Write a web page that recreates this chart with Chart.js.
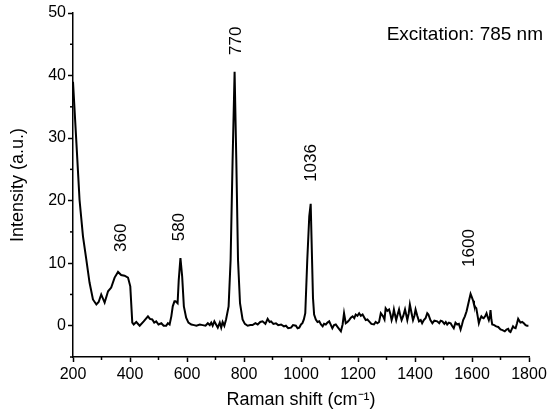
<!DOCTYPE html>
<html>
<head>
<meta charset="utf-8">
<script src="https://cdn.jsdelivr.net/npm/chart.js@4.4.1/dist/chart.umd.min.js"></script>
<style>
  body { margin: 0; background: #fff; }
  #wrap { width: 550px; height: 419px; }
</style>
</head>
<body>
<div id="wrap"><canvas id="ramanChart"></canvas></div>
<script>
// Spectrum
const ramanShift = [
  200, 212, 223, 235, 247, 258, 270, 282, 290, 299, 311, 323, 334, 346, 358, 369, 381, 393, 401, 408,
  413, 422, 434, 448, 463, 470, 478, 485, 492, 500, 510, 518, 527, 533, 539, 545, 550, 556, 560, 567,
  571, 577, 583, 589, 597, 605, 615, 625, 633, 645, 655, 665, 673, 680, 685, 690, 696, 702, 708, 715,
  720, 725, 731, 737, 746, 753, 760, 767, 773, 779, 786, 795, 803, 813, 822, 830, 840, 848, 857, 865,
  875, 883, 890, 895, 903, 912, 920, 930, 940, 947, 955, 965, 972, 982, 988, 994, 1000, 1005, 1010, 1015,
  1022, 1029, 1034, 1038, 1042, 1046, 1052, 1058, 1064, 1070, 1076, 1081, 1087, 1093, 1099, 1105, 1110, 1116, 1122, 1130,
  1140, 1146, 1151, 1157, 1163, 1169, 1175, 1181, 1187, 1192, 1198, 1204, 1210, 1216, 1222, 1227, 1233, 1239, 1247, 1256,
  1262, 1268, 1274, 1280, 1288, 1293, 1297, 1303, 1309, 1314, 1318, 1322, 1326, 1330, 1334, 1339, 1344, 1348, 1353, 1359,
  1365, 1369, 1373, 1378, 1382, 1388, 1393, 1398, 1402, 1408, 1414, 1420, 1425, 1431, 1437, 1443, 1447, 1454, 1461, 1468,
  1478, 1485, 1490, 1496, 1503, 1508, 1513, 1519, 1525, 1530, 1536, 1542, 1548, 1554, 1560, 1565, 1569, 1575, 1581, 1589,
  1595, 1600, 1604, 1607, 1611, 1615, 1620, 1624, 1628, 1633, 1637, 1641, 1646, 1651, 1655, 1659, 1663, 1665, 1668, 1671,
  1678, 1685, 1692, 1700, 1707, 1715, 1721, 1727, 1731, 1735, 1740, 1744, 1748, 1753, 1758, 1762, 1766, 1770, 1776, 1782,
  1788, 1793, 1798
];
const intensity = [
  39.0, 29.2, 20.1, 14.3, 10.5, 6.9, 4.2, 3.4, 3.8, 5.0, 3.7, 5.5, 6.1, 7.7, 8.6, 8.1, 8.0, 7.7, 6.3, 0.5,
  0.2, 0.6, 0.0, 0.7, 1.5, 1.1, 1.0, 0.5, 0.7, 0.2, 0.4, 0.0, 0.0, 0.4, 0.2, 1.5, 3.1, 3.9, 3.9, 3.6,
  7.3, 10.8, 7.9, 3.1, 1.3, 0.5, 0.2, 0.1, 0.0, 0.2, 0.1, 0.0, 0.4, 0.1, 0.5, 0.0, 0.7, 0.2, -0.3, 0.5,
  -0.3, 0.6, 0.0, 1.0, 3.1, 10.5, 26.5, 40.6, 26.5, 10.5, 3.6, 1.0, 0.3, 0.0, 0.1, 0.1, 0.4, 0.2, 0.6, 0.7,
  0.3, 1.1, 0.6, 0.7, 0.3, 0.4, 0.1, 0.2, -0.1, 0.0, -0.4, -0.3, 0.1, 0.0, -0.4, -0.3, 0.2, 0.4, 1.0, 2.0,
  10.5, 17.5, 19.5, 12.0, 4.5, 1.8, 1.0, 0.6, 0.7, 0.2, -0.1, 0.3, 0.2, 0.5, 0.7, 0.1, -0.4, 0.1, 0.2, -0.3,
  -0.9, 0.2, 2.0, 0.4, 0.6, 0.9, 1.3, 1.5, 1.2, 1.8, 1.6, 2.0, 1.6, 1.8, 1.3, 0.9, 1.0, 0.7, 0.3, 0.2,
  0.6, 0.4, 0.6, 2.0, 1.5, 1.0, 2.8, 2.4, 2.6, 1.8, 0.9, 1.5, 2.6, 1.7, 0.9, 1.8, 2.6, 1.7, 0.9, 1.6,
  2.6, 1.8, 0.9, 2.0, 3.4, 2.0, 0.9, 1.6, 2.6, 1.6, 0.7, 0.9, 0.4, 0.9, 1.2, 2.0, 1.8, 0.9, 0.4, 0.8,
  0.7, 0.4, 0.8, 0.7, 0.3, 0.6, 0.2, 0.5, 0.4, 0.0, -0.4, 0.5, 0.2, 0.3, -0.6, 0.2, 0.9, 1.5, 2.3, 3.9,
  5.1, 4.5, 4.0, 3.4, 3.0, 2.8, 1.5, 0.4, 1.0, 1.5, 1.3, 1.2, 1.5, 2.0, 1.4, 0.9, 1.6, 2.5, 1.0, 0.2,
  0.1, -0.1, -0.2, -0.6, -0.7, -0.9, -0.6, -0.5, -0.9, -1.0, -0.5, -0.1, -0.3, -0.4, 0.4, 1.1, 0.8, 0.5, 0.6, 0.4,
  0.1, 0.0, 0.0
];

// Axis ticks
const xTicks = [200, 400, 600, 800, 1000, 1200, 1400, 1600, 1800];
const xMinorTicks = [300, 500, 700, 900, 1100, 1300, 1500, 1700];
const yTicks = [0, 10, 20, 30, 40, 50];
const yMinorTicks = [-5, 5, 15, 25, 35, 45];

// Peak labels (position of the text start, in data units)
const peakNames = ['360', '580', '770', '1036', '1600'];
const peakLabelX = [369, 574, 772, 1035, 1589];
const peakLabelY = [11.8, 13.5, 43.3, 23.0, 9.4];

const FONT = '"Liberation Sans", Arial, sans-serif';

// minor ticks, peak labels, excitation note
const extrasPlugin = {
  id: 'extras',
  afterDraw(chart) {
    const ctx = chart.ctx;
    const xs = chart.scales.x;
    const ys = chart.scales.y;
    const area = chart.chartArea;
    ctx.save();
    ctx.strokeStyle = '#000';
    ctx.lineWidth = 1.5;
    xMinorTicks.forEach(function (v) {
      const px = xs.getPixelForValue(v);
      ctx.beginPath();
      ctx.moveTo(px, area.bottom);
      ctx.lineTo(px, area.bottom + 3);
      ctx.stroke();
    });
    yMinorTicks.forEach(function (v) {
      const py = ys.getPixelForValue(v);
      ctx.beginPath();
      ctx.moveTo(area.left, py);
      ctx.lineTo(area.left - 3, py);
      ctx.stroke();
    });

    ctx.fillStyle = '#000';
    ctx.font = '17px ' + FONT;
    ctx.textAlign = 'left';
    ctx.textBaseline = 'middle';
    for (let i = 0; i < peakNames.length; i++) {
      ctx.save();
      ctx.translate(xs.getPixelForValue(peakLabelX[i]), ys.getPixelForValue(peakLabelY[i]));
      ctx.rotate(-Math.PI / 2);
      ctx.fillText(peakNames[i], 0, 0);
      ctx.restore();
    }

    ctx.font = '19px ' + FONT;
    ctx.textAlign = 'right';
    ctx.fillText('Excitation: 785 nm', area.right + 14, 35);
    ctx.restore();
  }
};

const points = ramanShift.map(function (x, i) {
  return { x: x, y: intensity[i] };
});

function plainLabel(value) {
  return String(value);
}

const ctx = document.getElementById('ramanChart').getContext('2d');
new Chart(ctx, {
  type: 'line',
  data: {
    datasets: [
      {
        data: points,
        borderColor: '#000',
        borderWidth: 2,
        pointRadius: 0,
        tension: 0,
        fill: false,
      },
    ],
  },
  options: {
    responsive: true,
    maintainAspectRatio: false,
    animation: false,
    layout: { padding: { top: 13, right: 21, left: 0, bottom: 0 } },
    plugins: {
      legend: { display: false },
      tooltip: { enabled: false },
    },
    scales: {
      x: {
        type: 'linear',
        min: 200,
        max: 1800,
        afterFit: function (scale) { scale.height = 62; },
        afterBuildTicks: function (scale) {
          scale.ticks = xTicks.map(function (v) { return { value: v }; });
        },
        grid: { drawOnChartArea: false, tickLength: 5, tickWidth: 1.5, color: '#000' },
        border: { display: true, color: '#000', width: 1.5 },
        ticks: { color: '#000', font: { family: FONT, size: 16 }, padding: 3, maxRotation: 0, callback: plainLabel },
        title: {
          display: true,
          text: 'Raman shift (cm⁻¹)',
          color: '#000',
          font: { family: FONT, size: 18 },
          padding: { top: 0, bottom: 8 },
        },
      },
      y: {
        min: -5,
        max: 50,
        afterFit: function (scale) { scale.width = 73; },
        afterBuildTicks: function (scale) {
          scale.ticks = yTicks.map(function (v) { return { value: v }; });
        },
        grid: { drawOnChartArea: false, tickLength: 5, tickWidth: 1.5, color: '#000' },
        border: { display: true, color: '#000', width: 1.5 },
        ticks: { color: '#000', font: { family: FONT, size: 16 }, padding: 2, callback: plainLabel },
        title: {
          display: true,
          text: 'Intensity (a.u.)',
          color: '#000',
          font: { family: FONT, size: 18 },
          padding: { top: 7, bottom: 0 },
        },
      },
    },
  },
  plugins: [extrasPlugin],
});
</script>
</body>
</html>
